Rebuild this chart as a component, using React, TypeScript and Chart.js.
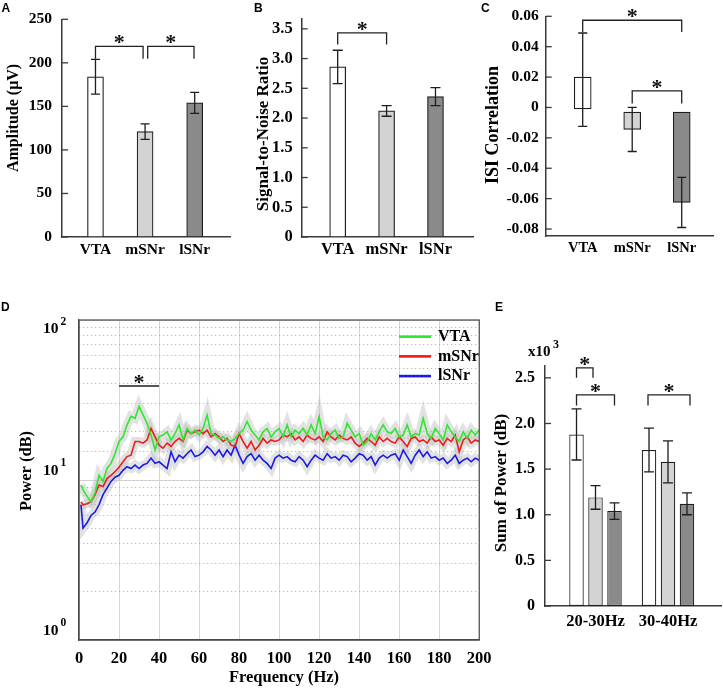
import React, { useEffect, useRef } from 'react';
import { Chart, registerables } from 'chart.js';

Chart.register(...registerables);

const SERIF = '"Liberation Serif", "Times New Roman", Times, serif';
const SANS = '"Liberation Sans", Arial, Helvetica, sans-serif';
const bold = (s: number) => `bold ${s}px ${SERIF}`;
const INK = '#1e1e1e';
const AXIS = '#3a3a3a';

// ---------------- data ----------------
const regions = ['VTA', 'mSNr', 'lSNr'];
const regionFill = ['#ffffff', '#d3d3d3', '#8a8a8a'];

// A: amplitude (µV)
const amplitudeMean = [184, 121, 154];
const amplitudeSem = [20, 9, 12];
const amplitudeTicks = [0, 50, 100, 150, 200, 250];

// B: signal-to-noise ratio
const snrMean = [2.86, 2.12, 2.36];
const snrSem = [0.28, 0.09, 0.15];
const snrTicks = [0, 0.5, 1.0, 1.5, 2.0, 2.5, 3.0, 3.5];

// C: ISI correlation (box top / bottom, whisker top / bottom)
const isiBoxTop = [0.02, -0.003, -0.003];
const isiBoxBottom = [-0.001, -0.0145, -0.0625];
const isiWhiskerTop = [0.049, 0.0, -0.046];
const isiWhiskerBottom = [-0.0125, -0.029, -0.079];
const isiTicks = [-0.08, -0.06, -0.04, -0.02, 0, 0.02, 0.04, 0.06];

// E: sum of power (x10^3 dB)
const bandLabels = ['20-30Hz', '30-40Hz'];
const sumVTA = [1.88, 1.71];
const sumVTASem = [0.28, 0.24];
const sumMSNr = [1.19, 1.58];
const sumMSNrSem = [0.13, 0.23];
const sumLSNr = [1.04, 1.12];
const sumLSNrSem = [0.09, 0.12];
const sumTicks = [0, 0.5, 1.0, 1.5, 2.0, 2.5];

// D: power spectra
const freqHz = [
  1, 2, 4, 6, 8, 10, 12, 14, 16, 18, 20, 22, 24, 26, 28, 30, 32, 34, 36, 38, 40, 42, 44, 46, 48, 50,
  52, 54, 56, 58, 60, 62, 64, 66, 68, 70, 72, 74, 76, 78, 80, 82, 84, 86, 88, 90, 92, 94, 96, 98, 100,
  102, 104, 106, 108, 110, 112, 114, 116, 118, 120, 122, 124, 126, 128, 130, 132, 134, 136, 138, 140, 142, 144, 146, 148, 150,
  152, 154, 156, 158, 160, 162, 164, 166, 168, 170, 172, 174, 176, 178, 180, 182, 184, 186, 188, 190, 192, 194, 196, 198, 200,
];
const powerVTA = [
  9.3, 8.7, 7.9, 7.3, 8.3, 10.7, 9.8, 11.8, 12.7, 14.6, 17.4, 18.6, 22.1, 25.0, 24.3, 28.8, 25.5, 22.6, 19.1, 15.4, 18.6, 19.1, 20.0, 17.8, 19.5, 22.1,
  17.8, 21.0, 19.5, 20.5, 19.1, 21.0, 25.5, 19.5, 19.1, 18.2, 18.6, 17.8, 17.4, 18.2, 19.5, 20.5, 23.2, 20.5, 19.1, 17.8, 20.0, 21.0, 18.6, 20.0, 21.0,
  18.6, 22.1, 18.6, 20.5, 19.5, 21.0, 19.1, 22.1, 19.5, 25.0, 18.6, 17.8, 19.5, 20.5, 18.2, 18.6, 22.6, 20.5, 18.6, 19.5, 16.5, 17.4, 19.5, 17.8, 20.0,
  22.1, 20.0, 19.5, 21.0, 18.6, 19.1, 22.1, 18.6, 19.5, 19.1, 24.3, 19.5, 18.2, 21.0, 19.5, 17.8, 22.1, 20.0, 18.6, 17.4, 20.0, 18.2, 20.5, 19.1, 20.5,
];
const powerMSNr = [
  7.3, 7.0, 7.1, 7.3, 8.1, 9.3, 9.1, 10.2, 10.7, 11.3, 12.0, 13.0, 14.0, 14.3, 17.4, 17.4, 17.0, 17.8, 21.0, 18.6, 16.5, 15.8, 17.0, 16.2, 17.4, 18.2,
  17.4, 20.5, 19.5, 20.0, 20.5, 19.5, 20.5, 18.6, 19.5, 18.6, 17.4, 18.2, 16.5, 16.2, 19.5, 17.4, 15.8, 17.4, 15.4, 16.5, 18.2, 17.0, 17.8, 17.4, 17.8,
  19.1, 18.6, 19.5, 17.8, 18.6, 17.4, 19.1, 18.2, 17.8, 18.6, 17.4, 20.0, 18.6, 17.8, 19.1, 18.2, 17.8, 18.6, 17.0, 16.2, 17.0, 18.2, 17.4, 16.5, 18.6,
  17.4, 18.2, 17.4, 17.0, 18.6, 17.4, 16.2, 18.2, 18.6, 17.4, 17.8, 17.0, 18.6, 17.4, 17.8, 16.5, 18.2, 17.4, 19.1, 15.0, 17.8, 18.6, 17.0, 17.8, 17.4,
];
const powerLSNr = [
  7.0, 5.0, 5.4, 6.0, 6.3, 7.0, 8.1, 8.9, 9.8, 10.4, 10.7, 11.5, 12.1, 11.8, 12.4, 11.8, 12.4, 12.7, 13.7, 12.7, 13.0, 12.4, 11.8, 15.0, 13.0, 14.3,
  13.7, 14.6, 15.4, 14.0, 14.3, 15.0, 16.2, 15.4, 14.3, 15.4, 14.0, 15.4, 14.3, 16.5, 14.3, 12.7, 14.0, 14.6, 13.3, 14.3, 13.3, 12.7, 11.8, 13.7, 14.3,
  13.7, 14.0, 13.3, 13.0, 14.0, 13.3, 12.1, 13.3, 14.3, 13.7, 13.3, 14.6, 13.7, 14.0, 13.3, 14.3, 14.0, 13.0, 13.7, 14.6, 14.3, 13.3, 14.0, 12.4, 13.7,
  14.3, 13.7, 14.3, 14.6, 13.3, 15.4, 14.0, 12.7, 14.3, 15.4, 14.0, 15.0, 13.7, 14.0, 13.3, 13.7, 12.7, 13.3, 14.3, 12.7, 13.3, 13.7, 13.0, 13.7, 13.3,
];
const freqTicks = [0, 20, 40, 60, 80, 100, 120, 140, 160, 180, 200];
const powerDecades = [1, 10, 100];
const sigRangeHz = [20, 40];

// ---------------- helpers ----------------
type Bracket = { a: [number, number]; b: [number, number]; y: number; dxA?: number; dxB?: number; leg: number };

interface BarSpec {
  W: number; H: number;
  area: { l: number; t: number; r: number; b: number };
  xMin: number; xMax: number; yMin: number; yMax: number;
  yTicks: number[]; yFmt: (v: number) => string;
  tickFont: number; tickPad: number; xFont: number; xPad: number;
  xPos: number[]; xLabels: string[];
  sets: { values: any[]; colors: string | string[]; lo: number[]; hi: number[] }[];
  barThickness?: number; categoryPercentage?: number; barPercentage?: number;
  brackets: Bracket[];
  title: { text: string; x: number; y: number; size: number };
  capW: number;
  extra?: (ctx: CanvasRenderingContext2D) => void;
}

function drawStar(ctx: CanvasRenderingContext2D, x: number, y: number) {
  const s = 22;
  ctx.font = bold(s);
  ctx.fillStyle = '#111';
  ctx.textAlign = 'center';
  ctx.textBaseline = 'alphabetic';
  ctx.fillText('*', x, y + 0.5 * s);
}

function vTitle(ctx: CanvasRenderingContext2D, text: string, x: number, y: number, size: number) {
  ctx.save();
  ctx.translate(x, y);
  ctx.rotate(-Math.PI / 2);
  ctx.font = bold(size);
  ctx.fillStyle = '#000';
  ctx.textAlign = 'center';
  ctx.textBaseline = 'middle';
  ctx.fillText(text, 0, 0);
  ctx.restore();
}

function buildBarChart(canvas: HTMLCanvasElement, s: BarSpec) {
  const extras = {
    id: 'extras',
    afterDraw(chart: any) {
      const ctx: CanvasRenderingContext2D = chart.ctx;
      const ys = chart.scales.y;
      const ca = chart.chartArea;
      ctx.save();
      ctx.strokeStyle = AXIS;
      ctx.lineWidth = 1.3;
      s.yTicks.forEach((v) => {
        const p = ys.getPixelForValue(v);
        ctx.beginPath();
        ctx.moveTo(ca.left, p);
        ctx.lineTo(ca.left + 6, p);
        ctx.stroke();
      });
      ctx.strokeStyle = INK;
      ctx.lineWidth = 1.3;
      s.sets.forEach((d, di) => {
        const meta = chart.getDatasetMeta(di);
        meta.data.forEach((el: any, i: number) => {
          const x = el.x;
          const y1 = ys.getPixelForValue(d.lo[i]);
          const y2 = ys.getPixelForValue(d.hi[i]);
          const h = s.capW / 2;
          ctx.beginPath();
          ctx.moveTo(x, y1); ctx.lineTo(x, y2);
          ctx.moveTo(x - h, y1); ctx.lineTo(x + h, y1);
          ctx.moveTo(x - h, y2); ctx.lineTo(x + h, y2);
          ctx.stroke();
        });
      });
      ctx.strokeStyle = '#222';
      ctx.lineWidth = 1.3;
      s.brackets.forEach((br) => {
        const xa = chart.getDatasetMeta(br.a[0]).data[br.a[1]].x + (br.dxA || 0);
        const xb = chart.getDatasetMeta(br.b[0]).data[br.b[1]].x + (br.dxB || 0);
        const yt = ys.getPixelForValue(br.y);
        ctx.beginPath();
        ctx.moveTo(xa, yt + br.leg);
        ctx.lineTo(xa, yt);
        ctx.lineTo(xb, yt);
        ctx.lineTo(xb, yt + br.leg);
        ctx.stroke();
        drawStar(ctx, (xa + xb) / 2, yt - 8);
      });
      vTitle(ctx, s.title.text, s.title.x, s.title.y, s.title.size);
      if (s.extra) s.extra(ctx);
      ctx.restore();
    },
  };

  return new Chart(canvas, {
    type: 'bar',
    data: {
      datasets: s.sets.map((d) => ({
        data: d.values.map((v: any, i: number) => ({ x: s.xPos[i], y: v })),
        backgroundColor: d.colors,
        borderColor: INK,
        borderWidth: 1.2,
        borderSkipped: false,
        barThickness: s.barThickness,
        categoryPercentage: s.categoryPercentage ?? 0.8,
        barPercentage: s.barPercentage ?? 0.9,
      })),
    },
    options: {
      responsive: false,
      animation: false,
      events: [],
      layout: { padding: { left: 0, top: s.area.t, right: s.W - s.area.r, bottom: 0 } },
      plugins: { legend: { display: false }, tooltip: { enabled: false } },
      scales: {
        x: {
          type: 'linear',
          offset: false,
          min: s.xMin,
          max: s.xMax,
          grid: { display: false, drawTicks: false },
          border: { display: true, color: AXIS, width: 1.5 },
          afterBuildTicks: (sc: any) => { sc.ticks = s.xPos.map((v) => ({ value: v })); },
          afterFit: (sc: any) => { sc.height = s.H - s.area.b; },
          ticks: {
            autoSkip: false,
            maxRotation: 0,
            padding: s.xPad,
            color: '#000',
            font: { family: SERIF, size: s.xFont, weight: 'bold' },
            callback: (_v: any, i: number) => s.xLabels[i],
          },
        },
        y: {
          type: 'linear',
          min: s.yMin,
          max: s.yMax,
          grid: { display: false, drawTicks: false },
          border: { display: true, color: AXIS, width: 1.5 },
          afterBuildTicks: (sc: any) => { sc.ticks = s.yTicks.map((v) => ({ value: v })); },
          afterFit: (sc: any) => { sc.width = s.area.l; },
          ticks: {
            autoSkip: false,
            padding: s.tickPad,
            color: '#000',
            font: { family: SERIF, size: s.tickFont, weight: 'bold' },
            callback: (v: any) => s.yFmt(Number(v)),
          },
        },
      },
    } as any,
    plugins: [extras],
  } as any);
}

const fmt1 = (v: number) => (v === 0 ? '0' : v.toFixed(1));
const fmt2 = (v: number) => (Math.abs(v) < 1e-9 ? '0' : v.toFixed(2));

function buildA(c: HTMLCanvasElement) {
  return buildBarChart(c, {
    W: 240, H: 262, area: { l: 62, t: 16, r: 230, b: 237 },
    xMin: 0.325, xMax: 3.712, yMin: 0, yMax: 250,
    yTicks: amplitudeTicks, yFmt: (v) => String(v),
    tickFont: 15.5, tickPad: 10, xFont: 15.5, xPad: 4,
    xPos: [1, 2, 3], xLabels: regions,
    sets: [{
      values: amplitudeMean, colors: regionFill,
      lo: amplitudeMean.map((m, i) => m - amplitudeSem[i]),
      hi: amplitudeMean.map((m, i) => m + amplitudeSem[i]),
    }],
    barThickness: 16,
    brackets: [
      { a: [0, 0], b: [0, 1], dxB: -2, y: 219, leg: 12.4 },
      { a: [0, 1], b: [0, 2], dxA: 2.6, dxB: -0.7, y: 219, leg: 12.4 },
    ],
    title: { text: 'Amplitude (\u03bcV)', x: 13.5, y: 118, size: 16 },
    capW: 9,
  });
}

function buildB(c: HTMLCanvasElement) {
  return buildBarChart(c, {
    W: 240, H: 262, area: { l: 61.7, t: 17, r: 233, b: 237 },
    xMin: 0.264, xMax: 3.767, yMin: 0, yMax: 3.667,
    yTicks: snrTicks, yFmt: fmt1,
    tickFont: 16.5, tickPad: 9, xFont: 16.5, xPad: 2.5,
    xPos: [1, 2, 3], xLabels: regions,
    sets: [{
      values: snrMean, colors: regionFill,
      lo: snrMean.map((m, i) => m - snrSem[i]),
      hi: snrMean.map((m, i) => m + snrSem[i]),
    }],
    barThickness: 16,
    brackets: [{ a: [0, 0], b: [0, 1], y: 3.433, leg: 11.7 }],
    title: { text: 'Signal-to-Noise Ratio', x: 23.5, y: 134, size: 17 },
    capW: 10,
  });
}

function buildC(c: HTMLCanvasElement) {
  return buildBarChart(c, {
    W: 243, H: 262, area: { l: 65.7, t: 16, r: 233, b: 236 },
    xMin: 0.2525, xMax: 3.632, yMin: -0.0846, yMax: 0.06,
    yTicks: isiTicks, yFmt: fmt2,
    tickFont: 15.5, tickPad: 7, xFont: 14.5, xPad: 3.8,
    xPos: [1, 2, 3], xLabels: regions,
    sets: [{
      values: isiBoxBottom.map((b, i) => [b, isiBoxTop[i]]), colors: regionFill,
      lo: isiWhiskerBottom, hi: isiWhiskerTop,
    }],
    barThickness: 17,
    brackets: [
      { a: [0, 0], b: [0, 2], y: 0.0574, leg: 11.7 },
      { a: [0, 1], b: [0, 2], y: 0.0109, leg: 12.6 },
    ],
    title: { text: 'ISI Correlation', x: 13, y: 125, size: 18 },
    capW: 9,
  });
}

function buildE(c: HTMLCanvasElement) {
  const mk = (m: number[], e: number[], col: string) => ({
    values: m, colors: col, lo: m.map((v, i) => v - e[i]), hi: m.map((v, i) => v + e[i]),
  });
  return buildBarChart(c, {
    W: 253, H: 340, area: { l: 75, t: 66, r: 251, b: 306 },
    xMin: 0.3034, xMax: 2.731, yMin: 0, yMax: 2.63,
    yTicks: sumTicks, yFmt: fmt1,
    tickFont: 16, tickPad: 10, xFont: 16.5, xPad: 5.8,
    xPos: [1, 2], xLabels: bandLabels,
    sets: [
      mk(sumVTA, sumVTASem, regionFill[0]),
      mk(sumMSNr, sumMSNrSem, regionFill[1]),
      mk(sumLSNr, sumLSNrSem, regionFill[2]),
    ],
    categoryPercentage: 0.786, barPercentage: 0.763,
    brackets: [
      { a: [0, 0], b: [1, 0], dxB: -2.5, y: 2.61, leg: 10 },
      { a: [0, 0], b: [2, 0], y: 2.314, leg: 10.7 },
      { a: [0, 1], b: [2, 1], dxA: -1, dxB: 3, y: 2.314, leg: 10.7 },
    ],
    title: { text: 'Sum of Power (dB)', x: 32, y: 183, size: 17 },
    capW: 10,
    extra: (ctx) => {
      ctx.fillStyle = '#000';
      ctx.textAlign = 'left';
      ctx.textBaseline = 'middle';
      ctx.font = bold(15);
      ctx.fillText('x10', 58, 52);
      ctx.font = bold(12);
      ctx.fillText('3', 83, 45);
    },
  });
}

function buildD(c: HTMLCanvasElement) {
  const W = 500, H = 390;
  const area = { l: 79, t: 20, r: 485, b: 340 };
  const pts = (vals: number[]) => freqHz.map((f, i) => ({ x: f, y: vals[i] }));
  const series = [
    { label: 'VTA', vals: powerVTA, color: '#2ee82e' },
    { label: 'mSNr', vals: powerMSNr, color: '#ee1c1c' },
    { label: 'lSNr', vals: powerLSNr, color: '#1a1ae6' },
  ];
  const isMajor = (v: number) => Math.abs(Math.log10(v) - Math.round(Math.log10(v))) < 1e-6;
  const minorTick = (ctx: any) => ctx && ctx.type === 'tick' && ctx.tick && !isMajor(ctx.tick.value);

  const extras = {
    id: 'extrasD',
    afterDraw(chart: any) {
      const ctx: CanvasRenderingContext2D = chart.ctx;
      const ca = chart.chartArea;
      const xs = chart.scales.x;
      const ys = chart.scales.y;
      ctx.save();
      // box
      ctx.setLineDash([]);
      ctx.strokeStyle = '#4a4a4a';
      ctx.lineWidth = 1.2;
      ctx.strokeRect(ca.left, ca.top, ca.right - ca.left, ca.bottom - ca.top);
      // decade labels 10^n
      powerDecades.forEach((v) => {
        const p = ys.getPixelForValue(v);
        const cy = p + (v === 100 ? 9 : -9.5);
        ctx.fillStyle = '#000';
        ctx.textBaseline = 'middle';
        ctx.textAlign = 'right';
        ctx.font = bold(15.5);
        ctx.fillText('10', 58.5, cy);
        ctx.textAlign = 'left';
        ctx.font = bold(11.5);
        ctx.fillText(String(Math.round(Math.log10(v))), 60.5, cy - 7);
      });
      // significance bar
      const x1 = xs.getPixelForValue(sigRangeHz[0]);
      const x2 = xs.getPixelForValue(sigRangeHz[1]);
      ctx.strokeStyle = '#555';
      ctx.lineWidth = 2.2;
      ctx.beginPath();
      ctx.moveTo(x1, 86);
      ctx.lineTo(x2, 86);
      ctx.stroke();
      drawStar(ctx, (x1 + x2) / 2, 78);
      // legend
      series.forEach((s, i) => {
        const y = 36.7 + i * 19.7;
        ctx.strokeStyle = s.color;
        ctx.lineWidth = 2.6;
        ctx.beginPath();
        ctx.moveTo(399, y);
        ctx.lineTo(431, y);
        ctx.stroke();
        ctx.fillStyle = '#000';
        ctx.font = bold(16);
        ctx.textAlign = 'left';
        ctx.textBaseline = 'middle';
        ctx.fillText(s.label, 438, y);
      });
      vTitle(ctx, 'Power (dB)', 27, 171, 16.5);
      ctx.font = bold(16.5);
      ctx.textAlign = 'center';
      ctx.textBaseline = 'middle';
      ctx.fillStyle = '#000';
      ctx.fillText('Frequency (Hz)', 284, 378);
      ctx.restore();
    },
  };

  const bands = series.map((s, i) => ({
    data: pts(s.vals),
    borderColor: 'rgba(185,185,185,0.42)',
    borderWidth: 9,
    pointRadius: 0,
    tension: 0,
    order: 10 + i,
  }));
  const lines = series.map((s, i) => ({
    label: s.label,
    data: pts(s.vals),
    borderColor: s.color,
    borderWidth: 1.6,
    pointRadius: 0,
    tension: 0,
    order: i,
  }));

  return new Chart(c, {
    type: 'line',
    data: { datasets: [...bands, ...lines] },
    options: {
      responsive: false,
      animation: false,
      events: [],
      layout: { padding: { left: 0, top: area.t, right: W - area.r, bottom: 0 } },
      plugins: { legend: { display: false }, tooltip: { enabled: false } },
      scales: {
        x: {
          type: 'linear',
          min: 0,
          max: 200,
          grid: { color: '#d7d7d7', lineWidth: 1, drawTicks: false },
          border: { display: true, color: '#4a4a4a', width: 1.2 },
          afterBuildTicks: (sc: any) => { sc.ticks = freqTicks.map((v) => ({ value: v })); },
          afterFit: (sc: any) => { sc.height = H - area.b; },
          ticks: {
            autoSkip: false,
            maxRotation: 0,
            padding: 8.4,
            color: '#000',
            font: { family: SERIF, size: 16.5, weight: 'bold' },
            callback: (v: any) => String(v),
          },
        },
        y: {
          type: 'logarithmic',
          min: 1,
          max: 100,
          grid: {
            drawTicks: false,
            lineWidth: 1,
            color: (ctx: any) => (minorTick(ctx) ? '#a8a8a8' : '#cfcfcf'),
          },
          border: {
            display: true,
            color: '#4a4a4a',
            width: 1.2,
            dash: (ctx: any) => (minorTick(ctx) ? [1, 3] : []),
          },
          afterFit: (sc: any) => { sc.width = area.l; },
          ticks: { autoSkip: false, callback: () => '' },
        },
      },
    } as any,
    plugins: [extras],
  } as any);
}

const letterStyle = (left: number, top: number): React.CSSProperties => ({
  position: 'absolute',
  left,
  top,
  font: `bold 12px ${SANS}`,
  lineHeight: '12px',
  color: '#000',
});

export default function App() {
  const refA = useRef<HTMLCanvasElement>(null);
  const refB = useRef<HTMLCanvasElement>(null);
  const refC = useRef<HTMLCanvasElement>(null);
  const refD = useRef<HTMLCanvasElement>(null);
  const refE = useRef<HTMLCanvasElement>(null);

  useEffect(() => {
    const charts = [
      buildD(refD.current!),
      buildA(refA.current!),
      buildB(refB.current!),
      buildC(refC.current!),
      buildE(refE.current!),
    ];
    return () => charts.forEach((ch) => ch.destroy());
  }, []);

  return (
    <div style={{ position: 'absolute', left: 0, top: 0, width: 723, height: 690, background: '#fff', overflow: 'hidden' }}>
      <canvas ref={refD} width={500} height={390} style={{ position: 'absolute', left: 0, top: 300 }} />
      <canvas ref={refA} width={240} height={262} style={{ position: 'absolute', left: 0, top: 0 }} />
      <canvas ref={refB} width={240} height={262} style={{ position: 'absolute', left: 240, top: 0 }} />
      <canvas ref={refC} width={243} height={262} style={{ position: 'absolute', left: 480, top: 0 }} />
      <canvas ref={refE} width={253} height={340} style={{ position: 'absolute', left: 470, top: 300 }} />
      <div style={letterStyle(1.5, 1.7)}>A</div>
      <div style={letterStyle(254, 1.7)}>B</div>
      <div style={letterStyle(481, 1.7)}>C</div>
      <div style={letterStyle(1, 300.5)}>D</div>
      <div style={letterStyle(495, 300.5)}>E</div>
    </div>
  );
}
